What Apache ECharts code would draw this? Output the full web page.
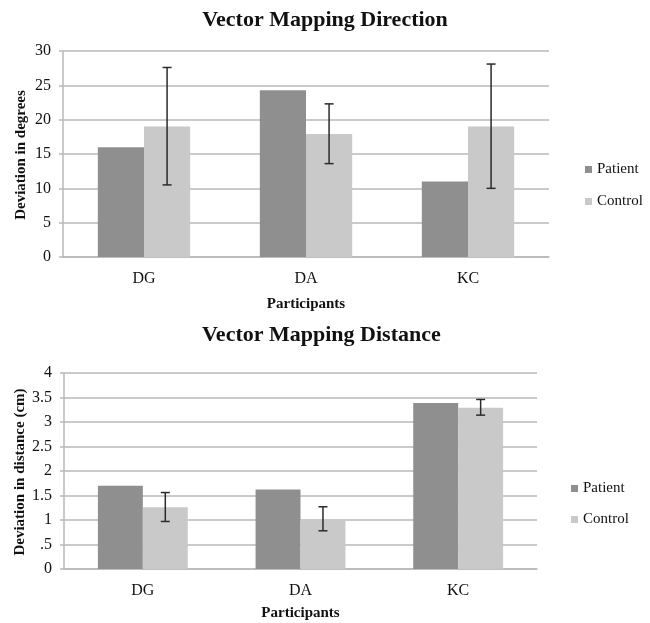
<!DOCTYPE html>
<html>
<head>
<meta charset="utf-8">
<script src="https://cdn.jsdelivr.net/npm/echarts@6/dist/echarts.min.js"></script>
<style>
  html, body { margin: 0; padding: 0; background: #fff; }
  #chart { width: 650px; height: 623px; }
</style>
</head>
<body>
<div id="chart"></div>
<script>
// participants
const categories = ["DG", "DA", "KC"];

// Vector Mapping Direction (degrees)
const directionPatient = [16, 24.3, 11];
const directionControl = [19, 17.9, 19];
const directionErrLow = [10.5, 13.6, 10];
const directionErrHigh = [27.6, 22.3, 28.1];
const directionTicks = ["0", "5", "10", "15", "20", "25", "30"];

// Vector Mapping Distance (cm)
const distancePatient = [1.7, 1.62, 3.39];
const distanceControl = [1.26, 1.01, 3.29];
const distanceErrLow = [0.97, 0.78, 3.14];
const distanceErrHigh = [1.56, 1.27, 3.46];
const distanceTicks = ["0", ".5", "1", "1.5", "2", "2.5", "3", "3.5", "4"];

const FONT = "Liberation Serif";
const GRID_COLOR = "#b9b9b9";
const PATIENT_COLOR = "#8f8f8f";
const CONTROL_COLOR = "#c9c9c9";
const CAT_GAP = "43%";

// error bar sits on the control bar (second of two bars in the band)
function renderErrorBar(params, api) {
  const idx = api.value(0);
  const lo = api.coord([idx, api.value(1)]);
  const hi = api.coord([idx, api.value(2)]);
  const band = api.size([1, 0])[0];
  const x = lo[0] + band * 0.57 / 4;
  const cap = 4.5;
  const style = { stroke: "#2b2b2b", lineWidth: 1.5 };
  return {
    type: "group",
    children: [
      { type: "line", shape: { x1: x, y1: lo[1], x2: x, y2: hi[1] }, style },
      { type: "line", shape: { x1: x - cap, y1: hi[1], x2: x + cap, y2: hi[1] }, style },
      { type: "line", shape: { x1: x - cap, y1: lo[1], x2: x + cap, y2: lo[1] }, style },
    ],
  };
}

function errData(low, high) {
  return categories.map((c, i) => [i, low[i], high[i]]);
}

function xAxisFor(gridIndex, nameGap) {
  return {
    type: "category",
    gridIndex,
    data: categories,
    name: "Participants",
    nameLocation: "middle",
    nameGap,
    nameTextStyle: { fontFamily: FONT, fontWeight: "bold", fontSize: 15, color: "#111" },
    axisLine: { lineStyle: { color: GRID_COLOR, width: 1.5 } },
    axisTick: { show: false },
    axisLabel: { fontFamily: FONT, fontSize: 16, color: "#111", margin: 14 },
  };
}

function yAxisFor(gridIndex, max, interval, ticks) {
  return {
    type: "value",
    gridIndex,
    min: 0,
    max,
    interval,
    axisLine: { show: true, lineStyle: { color: GRID_COLOR, width: 1.5 } },
    axisTick: { show: true, length: 4, lineStyle: { color: GRID_COLOR, width: 1.5 } },
    axisLabel: {
      fontFamily: FONT,
      fontSize: 16,
      color: "#111",
      margin: 12,
      formatter: (v) => ticks[Math.round(v / interval)],
    },
    splitLine: { lineStyle: { color: GRID_COLOR, width: 1.5 } },
  };
}

// rotated y axis title, placed next to the tick labels
function yTitle(text, x, y) {
  return {
    type: "text",
    x,
    y,
    rotation: Math.PI / 2,
    style: {
      text,
      fill: "#111",
      font: "bold 15px " + FONT,
      align: "center",
      verticalAlign: "middle",
    },
  };
}

function legendFor(left, top, gap) {
  return {
    orient: "vertical",
    left,
    top,
    itemGap: gap,
    itemWidth: 7,
    itemHeight: 7,
    icon: "rect",
    data: ["Patient", "Control"],
    textStyle: { fontFamily: FONT, fontSize: 15, color: "#111", lineHeight: 15, padding: [2, 0, 0, 0] },
  };
}

const chart = echarts.init(document.getElementById("chart"), null, { renderer: "canvas" });

chart.setOption({
  backgroundColor: "#fff",
  animation: false,
  title: [
    {
      text: "Vector Mapping Direction",
      left: "center",
      top: 4,
      textStyle: { fontFamily: FONT, fontWeight: "bold", fontSize: 22, color: "#111" },
    },
    {
      text: "Vector Mapping Distance",
      left: 197,
      top: 319,
      textStyle: { fontFamily: FONT, fontWeight: "bold", fontSize: 22, color: "#111" },
    },
  ],
  graphic: [
    yTitle("Deviation in degrees", 21, 155),
    yTitle("Deviation in distance (cm)", 20, 472),
  ],
  legend: [legendFor(580, 156, 15), legendFor(566, 475, 14)],
  grid: [
    { left: 63, right: 101, top: 51, height: 206, outerBoundsMode: "none" },
    { left: 64, right: 113, top: 373, height: 196, outerBoundsMode: "none" },
  ],
  xAxis: [xAxisFor(0, 40), xAxisFor(1, 37)],
  yAxis: [
    yAxisFor(0, 30, 5, directionTicks),
    yAxisFor(1, 4, 0.5, distanceTicks),
  ],
  series: [
    {
      name: "Patient", type: "bar", xAxisIndex: 0, yAxisIndex: 0,
      data: directionPatient, itemStyle: { color: PATIENT_COLOR },
      barGap: "0%", barCategoryGap: CAT_GAP,
    },
    {
      name: "Control", type: "bar", xAxisIndex: 0, yAxisIndex: 0,
      data: directionControl, itemStyle: { color: CONTROL_COLOR },
      barGap: "0%", barCategoryGap: CAT_GAP,
    },
    {
      type: "custom", xAxisIndex: 0, yAxisIndex: 0, z: 5,
      data: errData(directionErrLow, directionErrHigh),
      renderItem: renderErrorBar,
    },
    {
      name: "Patient", type: "bar", xAxisIndex: 1, yAxisIndex: 1,
      data: distancePatient, itemStyle: { color: PATIENT_COLOR },
      barGap: "0%", barCategoryGap: CAT_GAP,
    },
    {
      name: "Control", type: "bar", xAxisIndex: 1, yAxisIndex: 1,
      data: distanceControl, itemStyle: { color: CONTROL_COLOR },
      barGap: "0%", barCategoryGap: CAT_GAP,
    },
    {
      type: "custom", xAxisIndex: 1, yAxisIndex: 1, z: 5,
      data: errData(distanceErrLow, distanceErrHigh),
      renderItem: renderErrorBar,
    },
  ],
});
</script>
</body>
</html>
